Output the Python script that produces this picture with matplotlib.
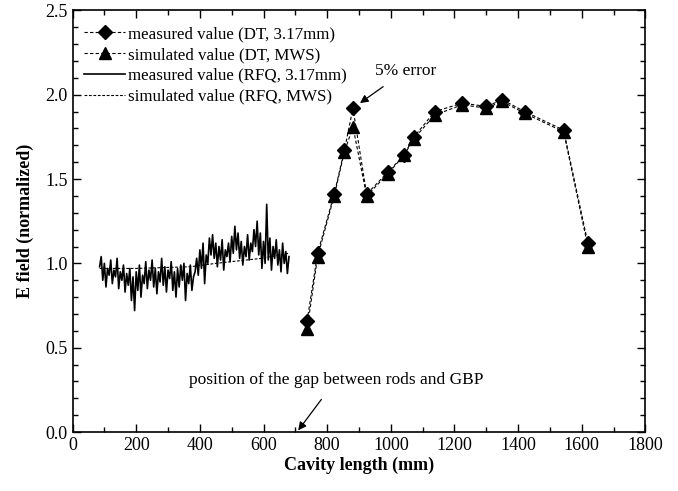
import numpy as np
import matplotlib
matplotlib.use("Agg")
import matplotlib.pyplot as plt
from matplotlib.ticker import MultipleLocator

plt.rcParams["font.family"] = ["Liberation Serif", "DejaVu Serif"]
plt.rcParams["mathtext.fontset"] = "stix"

# drift-tube section, measured (bead pull) and simulated (MWS)
dt_x = [737, 770, 822, 854, 881, 924, 990, 1041, 1073, 1138, 1225, 1300, 1350, 1420, 1543, 1619]
dt_meas = [0.66, 1.06, 1.41, 1.67, 1.92, 1.41, 1.54, 1.64, 1.75, 1.90, 1.95, 1.93, 1.97, 1.90, 1.79, 1.12]
dt_sim = [0.61, 1.04, 1.40, 1.66, 1.81, 1.40, 1.53, 1.64, 1.74, 1.88, 1.94, 1.92, 1.96, 1.89, 1.78, 1.10]

# RFQ section, measured trace sampled every 5 mm from 85 mm
rfq_meas = [
    0.98, 1.04, 0.90, 1.00, 0.86, 0.97, 0.93, 1.02, 0.88, 0.96,
    0.92, 1.03, 0.85, 0.95, 0.90, 0.99, 0.83, 0.94, 0.87, 0.97,
    0.78, 0.92, 0.72, 0.95, 0.84, 0.99, 0.80, 0.93, 0.88, 1.01,
    0.85, 0.96, 0.90, 1.02, 0.86, 0.97, 0.82, 0.95, 0.89, 1.03,
    0.87, 0.98, 0.83, 0.96, 0.91, 1.01, 0.84, 0.95, 0.80, 0.97,
    0.86, 0.99, 0.90, 1.00, 0.78, 0.94, 0.88, 0.99, 0.84, 0.92,
    0.95, 1.03, 0.93, 1.08, 0.97, 1.12, 0.88, 1.05, 1.00, 1.15,
    1.05, 1.17, 1.03, 1.12, 0.98, 1.10, 1.02, 1.14, 0.96, 1.08,
    1.04, 1.12, 1.01, 1.16, 1.06, 1.22, 1.08, 1.18, 1.03, 1.13,
    0.99, 1.10, 1.04, 1.17, 1.02, 1.12, 1.07, 1.20, 1.10, 1.25,
    1.05, 1.18, 0.97, 1.13, 1.00, 1.35, 1.02, 1.15, 0.96, 1.10,
    1.03, 1.14, 0.99, 1.08, 0.95, 1.12, 1.00, 1.07, 0.94, 1.04,
]
rfq_x = np.arange(85, 85 + 5 * len(rfq_meas), 5)

rfq_sim_x = [85, 200, 370, 450, 594, 680]
rfq_sim = [0.97, 0.97, 0.98, 1.00, 1.03, 1.06]

fig = plt.figure(figsize=(6.78, 4.91), dpi=100)
ax = fig.add_axes([0.107, 0.120, 0.845, 0.859])

dash = (0, (3, 2))
ax.plot(dt_x, dt_meas, color="black", lw=0.8, linestyle=dash, marker="D", ms=7,
        label="measured value (DT, 3.17mm)")
ax.plot(dt_x, dt_sim, color="black", lw=0.8, linestyle=dash, marker="^", ms=8.5,
        label="simulated value (DT, MWS)")
ax.plot(rfq_x, rfq_meas, color="black", lw=1.2, label="measured value (RFQ, 3.17mm)")
ax.plot(rfq_sim_x, rfq_sim, color="black", lw=0.8, linestyle=(0, (2.5, 1.5)),
        label="simulated value (RFQ, MWS)")

ax.set_xlim(0, 1800)
ax.set_ylim(0, 2.5)
ax.xaxis.set_major_locator(MultipleLocator(200))
ax.xaxis.set_minor_locator(MultipleLocator(100))
ax.yaxis.set_major_locator(MultipleLocator(0.5))
ax.yaxis.set_minor_locator(MultipleLocator(0.1))
ax.yaxis.set_major_formatter(matplotlib.ticker.FormatStrFormatter("%.1f"))
ax.tick_params(which="both", direction="in", top=True, right=True, labelsize=13)
ax.tick_params(which="major", length=6, width=1)
ax.tick_params(which="minor", length=3.5, width=1)
for s in ax.spines.values():
    s.set_linewidth(1.2)

ax.set_xlabel("Cavity length (mm)", fontsize=13, fontweight="bold", labelpad=2)
ax.set_ylabel("E field (normalized)", fontsize=13, fontweight="bold", labelpad=8)

ax.legend(loc="upper left", frameon=False, fontsize=12.2, handlelength=2.4,
          handletextpad=0.2, labelspacing=0.28, borderaxespad=0.3,
          bbox_to_anchor=(0.0, 0.99))

ax.annotate("5% error", xy=(903, 1.95), xytext=(1045, 2.14),
            ha="center", va="center", fontsize=12.5,
            arrowprops=dict(arrowstyle="-|>", color="black", lw=0.9,
                            shrinkA=6, shrinkB=0, mutation_scale=12))
ax.annotate("position of the gap between rods and GBP", xy=(709, 0.01),
            xytext=(828, 0.31), ha="center", va="center", fontsize=12.5,
            arrowprops=dict(arrowstyle="-|>", color="black", lw=0.9,
                            shrinkA=8, shrinkB=0, mutation_scale=12))

fig.savefig("out.png", dpi=100)
